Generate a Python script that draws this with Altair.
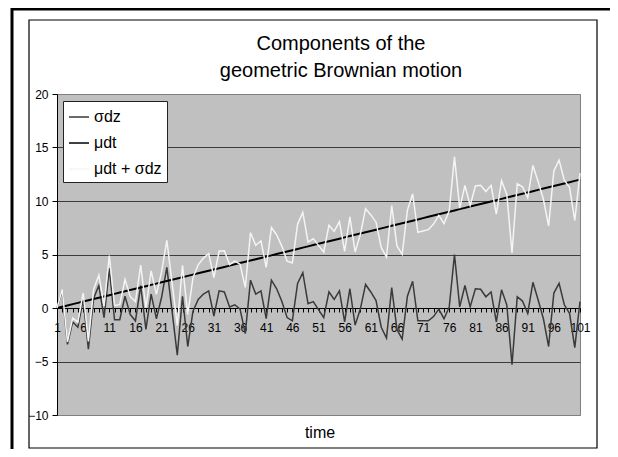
import altair as alt
import pandas as pd

# ---- data ----
time = list(range(1, 102))

sigma_dz = [
    0.0, 1.6, -3.4, -1.3, -1.8, 0.8, -3.85, 0.9, 2.1, -0.9,
    3.7, -1.1, -1.1, 1.1, -0.6, -1.2, 2.1, -2.0, 1.3, -1.0,
    1.0, 3.8, -0.3, -4.4, 1.1, -3.6, -0.3, 0.8, 1.3, 1.6,
    -0.75, 1.6, 1.5, 0.1, 0.3, -0.1, -2.4, 2.6, 1.3, 1.6,
    -1.0, 2.6, 1.8, 0.6, -0.9, -1.2, 2.3, 3.3, 0.4, 0.6,
    -0.15, -0.9, 1.5, 0.8, 1.6, -1.3, 1.8, -1.6, -0.1, 2.2,
    1.5, 0.7, -1.8, -2.8, 1.9, -2.0, -2.9, 1.1, 2.5, -1.2,
    -1.2, -1.2, -0.8, -0.1, -1.0, 0.1, 5.0, 0.1, 2.1, 0.1,
    1.8, 1.75, 1.05, 1.5, -1.3, 1.7, 0.3, -5.3, 1.05, 0.65,
    -0.5, 2.4, 0.75, -1.0, -3.6, 1.4, 2.3, 0.3, -0.5, -3.7,
    0.6,
]

mu_dt = [
    0.0, 0.12, 0.24, 0.36, 0.48, 0.6, 0.72, 0.84, 0.96, 1.08,
    1.2, 1.32, 1.44, 1.56, 1.68, 1.8, 1.92, 2.04, 2.16, 2.28,
    2.4, 2.52, 2.64, 2.76, 2.88, 3.0, 3.12, 3.24, 3.36, 3.48,
    3.6, 3.72, 3.84, 3.96, 4.08, 4.2, 4.32, 4.44, 4.56, 4.68,
    4.8, 4.92, 5.04, 5.16, 5.28, 5.4, 5.52, 5.64, 5.76, 5.88,
    6.0, 6.12, 6.24, 6.36, 6.48, 6.6, 6.72, 6.84, 6.96, 7.08,
    7.2, 7.32, 7.44, 7.56, 7.68, 7.8, 7.92, 8.04, 8.16, 8.28,
    8.4, 8.52, 8.64, 8.76, 8.88, 9.0, 9.12, 9.24, 9.36, 9.48,
    9.6, 9.72, 9.84, 9.96, 10.08, 10.2, 10.32, 10.44, 10.56, 10.68,
    10.8, 10.92, 11.04, 11.16, 11.28, 11.4, 11.52, 11.64, 11.76, 11.88,
    12.0,
]

assert len(sigma_dz) == len(time) and len(mu_dt) == len(time)

# the third series is, by definition, the sum of the two components
mu_dt_plus_sigma_dz = [round(a + b, 2) for a, b in zip(mu_dt, sigma_dz)]

series_names = ["σdz", "μdt", "μdt + σdz"]
series_colors = ["#3a3a3a", "#000000", "#f4f4f4"]
series_widths = [1.5, 2, 1.5]
y_ticks = [-10, -5, 0, 5, 10, 15, 20]
title_lines = ["Components of the", "geometric Brownian motion"]
x_title = "time"

FONT = "Liberation Sans"
W, H = 523, 321

rows = []
for name, vals in zip(series_names, [sigma_dz, mu_dt, mu_dt_plus_sigma_dz]):
    for t, v in zip(time, vals):
        rows.append({"time": t, "value": v, "series": name})
df = pd.DataFrame(rows)

x_enc = alt.X(
    "time:Q",
    scale=alt.Scale(domain=[1, 101], nice=False, zero=False),
    axis=alt.Axis(
        values=time,
        title=None,
        offset=-107,
        grid=False,
        tickSize=4,
        tickColor="black",
        domainColor="black",
        labelExpr="(datum.value - 1) % 5 == 0 ? datum.label : ''",
        labelOverlap=False,
        labelBound=False,
        labelFlush=False,
        labelPadding=10,
        labelFont=FONT,
        labelFontSize=12,
        labelColor="black",
    ),
)
y_enc = alt.Y(
    "value:Q",
    scale=alt.Scale(domain=[-10, 20], nice=False, zero=False),
    axis=alt.Axis(
        values=y_ticks,
        title=None,
        tickSize=5,
        tickColor="black",
        domainColor="black",
        gridColor={
            "condition": {"test": "datum.value === 20 || datum.value === -10", "value": "#808080"},
            "value": "#3c3c3c",
        },
        labelPadding=4,
        labelFont=FONT,
        labelFontSize=12,
        labelColor="black",
    ),
)
color_enc = alt.Color(
    "series:N",
    scale=alt.Scale(domain=series_names, range=series_colors),
    legend=alt.Legend(
        title=None,
        orient="none",
        legendX=6,
        legendY=7,
        fillColor="white",
        strokeColor="#222222",
        padding=5,
        symbolType="stroke",
        symbolSize=400,
        symbolStrokeWidth=1.5,
        labelFont=FONT,
        labelFontSize=16,
        labelColor="black",
        labelOffset=4,
        rowPadding=7,
    ),
)

line_layers = []
for name, w in zip(series_names, series_widths):
    line_layers.append(
        alt.Chart(df)
        .transform_filter(alt.datum.series == name)
        .mark_line(strokeWidth=w)
        .encode(x=x_enc, y=y_enc, color=color_enc)
    )

dummy = pd.DataFrame({"a": [0]})
deco = alt.Chart(dummy)

frame_rect = deco.mark_rect(fill=None, stroke="black", strokeWidth=1.2).encode(
    x=alt.value(-28), x2=alt.value(540), y=alt.value(-74), y2=alt.value(354)
)
outer_left = deco.mark_rule(color="black", strokeWidth=3).encode(
    x=alt.value(-45), y=alt.value(-86), y2=alt.value(360)
)
outer_top = deco.mark_rule(color="black", strokeWidth=3).encode(
    x=alt.value(-46), x2=alt.value(560), y=alt.value(-85)
)

title1 = deco.mark_text(font=FONT, fontSize=20, align="center", baseline="alphabetic", color="black").encode(
    x=alt.value(284), y=alt.value(-44), text=alt.value(title_lines[0])
)
title2 = deco.mark_text(font=FONT, fontSize=20, align="center", baseline="alphabetic", color="black").encode(
    x=alt.value(284), y=alt.value(-17), text=alt.value(title_lines[1])
)
xtitle = deco.mark_text(font=FONT, fontSize=16, align="center", baseline="middle", color="black").encode(
    x=alt.value(263), y=alt.value(339), text=alt.value(x_title)
)

chart = (
    alt.layer(*line_layers, frame_rect, outer_left, outer_top, title1, title2, xtitle)
    .properties(
        width=W,
        height=H,
        autosize=alt.AutoSizeParams(type="none"),
        padding={"left": 49, "top": 86, "right": 30, "bottom": 34},
        background="white",
    )
    .configure_view(fill="#c0c0c0", stroke="#808080", strokeWidth=1)
)

chart.save("out.html", embed_options={"renderer": "svg", "actions": False})
